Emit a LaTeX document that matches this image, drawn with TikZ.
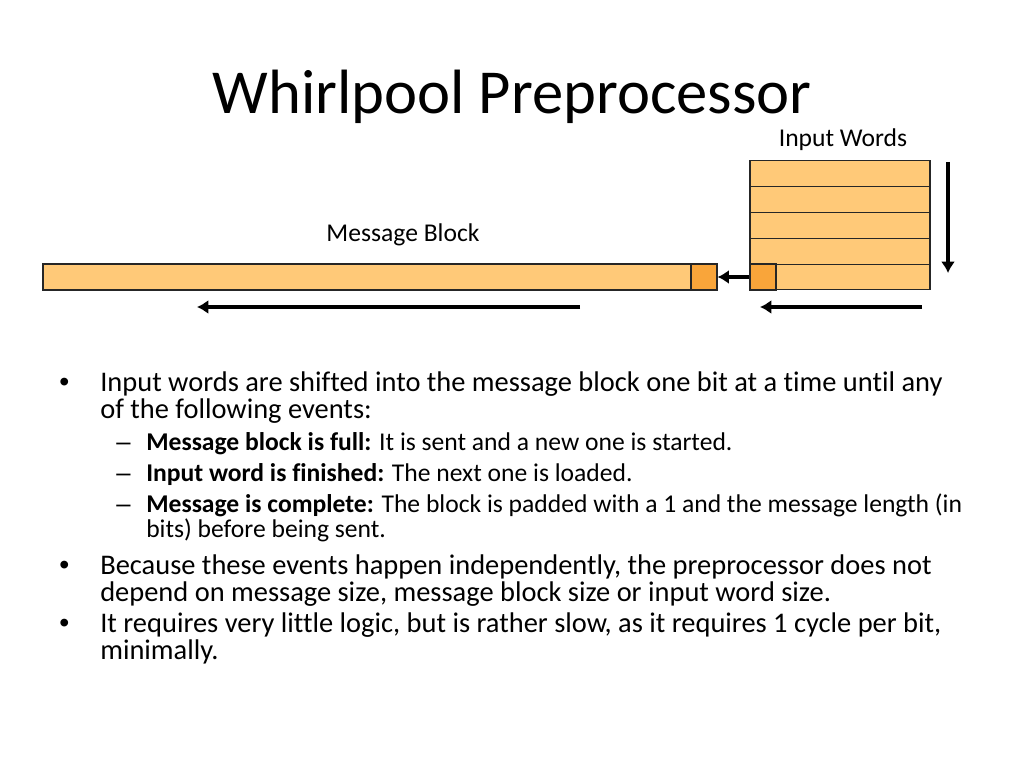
\documentclass[tikz,border=0pt]{standalone}
\usepackage{fontspec}
\setmainfont{Carlito}[Ligatures=NoCommon]
\newfontfamily\bulletfont{Liberation Sans}
\usetikzlibrary{positioning}
\usetikzlibrary{arrows.meta}
\definecolor{lightorange}{HTML}{FFC978}
\definecolor{darkorange}{HTML}{F9A53A}
\tikzset{>=latex}
\tikzstyle{cell} = [rectangle, draw=black!85, fill=lightorange, line width=0.8pt, inner sep=0]
\tikzstyle{bitcell} = [cell, fill=darkorange, minimum width=26*0.703125pt, minimum height=26*0.703125pt]
\tikzstyle{shiftarrow} = [-{Latex[length=8pt, width=10pt]}, line width=2.6pt]
\tikzstyle{line} = [anchor=base west, inner sep=0, font=\fontsize{20}{24}\selectfont]
\tikzstyle{subline} = [anchor=base west, inner sep=0, font=\fontsize{18}{22}\selectfont]
\tikzstyle{dot} = [anchor=base west, inner sep=0, font=\bulletfont\fontsize{20}{24}\selectfont]
\tikzstyle{subdot} = [anchor=base west, inner sep=0, font=\bulletfont\fontsize{18}{22}\selectfont]
\begin{document}
\begin{tikzpicture}[x=0.703125pt, y=-0.703125pt]
\useasboundingbox (0,0) rectangle (1024,768);
\node [inner sep=0, font=\fontsize{44}{53}\selectfont] (title) at (512,97) {Whirlpool Preprocessor};

% message block
\node [cell, minimum width=674*0.703125pt, minimum height=26*0.703125pt] (msg) at (380,277) {};
\node [bitcell] (msgbit) at (704,277) {};
\node [font=\fontsize{18}{22}\selectfont] (msglabel) at (403,235) {Message Block};

% input words
\foreach \i in {1,...,5}
  \node [cell, minimum width=180*0.703125pt, minimum height=25.8*0.703125pt] (w\i) at (840,148+25.8*\i) {};
\node [bitcell] (wordbit) at (763,277) {};
\node [font=\fontsize{18}{22}\selectfont] (wordlabel) at (843,140) {Input Words};

\coordinate (downtop) at (948,162);
\coordinate (downend) at (948,273);
\coordinate (wordstart) at (922,307);
\coordinate (wordend) at (760,307);
\coordinate (msgstart) at (580,307);
\coordinate (msgend) at (197,307);
\draw [shiftarrow] (wordbit.west) to (msgbit.east);
\draw [shiftarrow] (downtop) to (downend);
\draw [shiftarrow] (wordstart) to (wordend);
\draw [shiftarrow] (msgstart) to (msgend);

% bullets
\node [dot] (b1) at (59,391) {•};
\node [line] (t1) at (100,391) {Input words are shifted into the message block one bit at a time until any};
\node [line] (t1b) at (100,418) {of the following events:};
\node [subdot] (d1) at (116,450) {–};
\node [subline] (s1) at (146,450) {\textbf{Message block is full:} It is sent and a new one is started.};
\node [subdot] (d2) at (116,481) {–};
\node [subline] (s2) at (146,481) {\textbf{Input word is finished:} The next one is loaded.};
\node [subdot] (d3) at (116,512) {–};
\node [subline] (s3) at (146,512) {\textbf{Message is complete:} The block is padded with a 1 and the message length (in};
\node [subline] (s3b) at (146,537) {bits) before being sent.};
\node [dot] (b2) at (59,574) {•};
\node [line] (t2) at (100,574) {Because these events happen independently, the preprocessor does not};
\node [line] (t2b) at (100,601) {depend on message size, message block size or input word size.};
\node [dot] (b3) at (59,632) {•};
\node [line] (t3) at (100,632) {It requires very little logic, but is rather slow, as it requires 1 cycle per bit,};
\node [line] (t3b) at (100,659) {minimally.};
\end{tikzpicture}
\end{document}
